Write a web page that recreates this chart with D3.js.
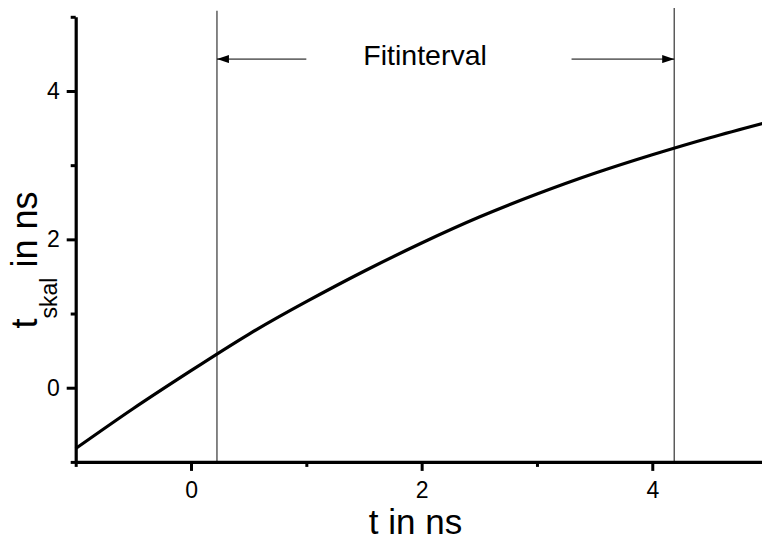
<!DOCTYPE html>
<html>
<head>
<meta charset="utf-8">
<script src="https://cdn.jsdelivr.net/npm/d3@7/dist/d3.min.js"></script>
<style>
  html, body { margin: 0; padding: 0; background: #fff; }
  svg { display: block; }
  text { font-family: "Liberation Sans", Arial, Helvetica, sans-serif; fill: #000; }
</style>
</head>
<body>
<svg id="chart" width="762" height="542"></svg>
<script>
// ---- data ----
const tValues   = [-1, -0.5, 0, 0.5, 1, 1.5, 2, 2.5, 3, 3.5, 4, 4.5, 5];
const tSkal     = [-0.82, -0.28, 0.23, 0.72, 1.16, 1.57, 1.95, 2.30, 2.61, 2.89, 3.14, 3.37, 3.58];
const xMajorTicks = [0, 2, 4];
const xMinorTicks = [-1, 1, 3, 5];
const yMajorTicks = [0, 2, 4];
const yMinorTicks = [-1, 1, 3, 5];
const fitInterval = [0.225, 4.19];   // vertical marker lines (t in ns)
const fitLabel = "Fitinterval";
const xTitle = "t in ns";

// ---- layout ----
const svg = d3.select("#chart");
const x = d3.scaleLinear().domain([-1, 5]).range([75.7, 767.6]);
const y = d3.scaleLinear().domain([-1, 5]).range([461.9, 16.8]);

const font = '"Liberation Sans", Arial, Helvetica, sans-serif';

// marker lines
svg.append("g").selectAll("line").data(fitInterval).join("line")
  .attr("x1", d => x(d)).attr("x2", d => x(d))
  .attr("y1", (d, i) => y(i === 0 ? 5.08 : 5.12)).attr("y2", y(-1))
  .attr("stroke", "#222").attr("stroke-width", 1.1);

// arrow markers
const defs = svg.append("defs");
defs.append("marker").attr("id", "arrow")
  .attr("viewBox", "0 0 12 8").attr("refX", 12).attr("refY", 4)
  .attr("markerWidth", 12).attr("markerHeight", 8)
  .attr("markerUnits", "userSpaceOnUse").attr("orient", "auto")
  .append("path").attr("d", "M0,0 L12,4 L0,8 Z").attr("fill", "#000");

const arrowY = 4.43;
const arrows = [[1.0, fitInterval[0]], [3.30, fitInterval[1]]];
svg.append("g").selectAll("line").data(arrows).join("line")
  .attr("x1", d => x(d[0])).attr("x2", d => x(d[1]))
  .attr("y1", y(arrowY)).attr("y2", y(arrowY))
  .attr("stroke", "#000").attr("stroke-width", 1)
  .attr("marker-end", "url(#arrow)");

svg.append("text")
  .attr("x", x(2.03)).attr("y", y(4.35))
  .attr("text-anchor", "middle")
  .style("font-size", "28.5px")
  .text(fitLabel);

// curve
const data = tValues.map((t, i) => ({ t, v: tSkal[i] }));
svg.append("path").datum(data)
  .attr("fill", "none").attr("stroke", "#000").attr("stroke-width", 3.2)
  .attr("stroke-linejoin", "round")
  .attr("d", d3.line().x(d => x(d.t)).y(d => y(d.v)).curve(d3.curveNatural));

// axes
function styleAxis(g) {
  g.select(".domain").attr("stroke", "#000").attr("stroke-width", 3.2);
  g.selectAll(".tick line").attr("stroke", "#000").attr("stroke-width", 3);
  g.selectAll(".tick text").style("font-family", font).style("font-size", "23px").attr("fill", "#000");
}

const xAxisMinor = svg.append("g").attr("transform", `translate(0,${y(-1)})`)
  .call(d3.axisBottom(x).tickValues(xMinorTicks).tickSize(5).tickSizeOuter(0).tickFormat(""));
styleAxis(xAxisMinor);
const xAxis = svg.append("g").attr("transform", `translate(0,${y(-1)})`)
  .call(d3.axisBottom(x).tickValues(xMajorTicks).tickSize(9).tickSizeOuter(0).tickPadding(11).tickFormat(d3.format("d")));
styleAxis(xAxis);
xAxis.select(".domain").remove();

const yAxisMinor = svg.append("g").attr("transform", `translate(${x(-1)},0)`)
  .call(d3.axisLeft(y).tickValues(yMinorTicks).tickSize(5).tickSizeOuter(0).tickFormat(""));
styleAxis(yAxisMinor);
const yAxis = svg.append("g").attr("transform", `translate(${x(-1)},0)`)
  .call(d3.axisLeft(y).tickValues(yMajorTicks).tickSize(9).tickSizeOuter(0).tickPadding(7).tickFormat(d3.format("d")));
styleAxis(yAxis);
yAxis.select(".domain").remove();

// axis titles
svg.append("text")
  .attr("x", 415.5).attr("y", 534)
  .attr("text-anchor", "middle")
  .style("font-size", "35px")
  .text(xTitle);

const yt = svg.append("text")
  .attr("transform", "translate(37,260) rotate(-90)")
  .attr("text-anchor", "middle")
  .style("font-size", "36px");
yt.append("tspan").text("t");
yt.append("tspan").attr("dy", 20).style("font-size", "23px").text("skal");
yt.append("tspan").attr("dy", -20).text(" in ns");
</script>
</body>
</html>
